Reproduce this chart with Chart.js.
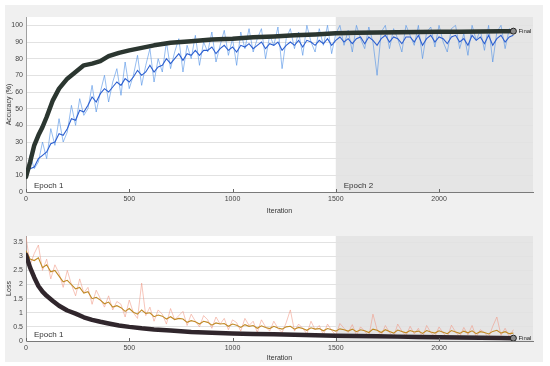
<!DOCTYPE html>
<html>
<head>
<meta charset="utf-8">
<script src="https://cdn.jsdelivr.net/npm/chart.js@4.4.1/dist/chart.umd.min.js"></script>
<style>
html, body { margin: 0; padding: 0; background: #fff; }
#panel { position: absolute; left: 5px; top: 5px; width: 538px; height: 357px; background: #f0f0f0; }
canvas { position: absolute; }
#acc { left: 5px; top: 5px; }
#loss { left: 5px; top: 228px; }
</style>
</head>
<body>
<div id="panel"></div>
<canvas id="acc" width="538" height="210"></canvas>
<canvas id="loss" width="538" height="134"></canvas>
<script>
// training iterations (sampled) for raw + smoothed curves
const iterations = [0,20,40,60,80,100,120,140,160,180,200,220,240,260,280,300,320,340,360,380,
  400,420,440,460,480,500,520,540,560,580,600,620,640,660,680,700,720,740,760,780,
  800,820,840,860,880,900,920,940,960,980,1000,1020,1040,1060,1080,1100,1120,1140,1160,1180,
  1200,1220,1240,1260,1280,1300,1320,1340,1360,1380,1400,1420,1440,1460,1480,1500,1520,1540,1560,1580,
  1600,1620,1640,1660,1680,1700,1720,1740,1760,1780,1800,1820,1840,1860,1880,1900,1920,1940,1960,1980,
  2000,2020,2040,2060,2080,2100,2120,2140,2160,2180,2200,2220,2240,2260,2280,2300,2320,2340,2360];

const accRaw = [8,22,14,18,30,20,38,28,44,30,36,52,40,56,46,50,64,48,60,70,
  54,66,74,58,78,62,70,82,64,76,86,66,80,72,90,74,84,92,72,88,
  80,94,76,90,84,96,78,88,97,82,92,76,96,86,98,84,92,98,80,94,
  88,99,74,92,98,86,96,82,100,90,84,98,88,100,83,95,100,88,97,84,
  100,92,86,99,90,70,96,100,86,98,92,84,100,94,88,100,80,96,99,87,
  100,90,84,98,100,86,95,82,100,91,97,85,100,78,96,100,86,98,96];

const accSmooth = [10,14,15,20,22,24,29,30,35,34,38,44,43,49,48,52,57,54,59,62,
  60,63,66,64,68,66,69,73,70,72,76,72,75,76,80,77,80,83,79,83,
  82,85,82,85,85,87,83,86,88,85,87,84,88,87,89,86,88,90,86,89,
  88,90,85,88,90,88,91,87,91,90,88,91,89,92,88,91,93,90,92,89,
  92,93,89,93,91,88,92,94,90,93,92,89,93,93,90,94,88,92,94,90,
  93,92,89,93,94,90,92,88,94,91,93,89,94,88,92,94,90,93,94];

const lossRaw = [3.7,2.7,3.1,3.4,2.5,2.9,2.2,2.7,2.4,1.9,2.5,2.0,1.6,2.2,1.7,1.9,1.3,1.8,1.5,1.2,
  1.6,1.1,1.4,1.3,0.85,1.45,1.0,0.8,2.05,0.9,1.2,0.7,1.1,0.95,0.6,1.15,0.75,0.9,1.05,0.55,
  0.95,0.7,0.5,0.9,0.75,0.45,0.85,0.6,0.8,0.4,0.75,0.65,0.35,0.8,0.55,0.7,0.3,0.75,0.5,0.35,
  0.7,0.45,0.3,0.65,1.1,0.35,0.6,0.45,0.25,0.7,0.4,0.55,0.22,0.6,0.38,0.2,0.62,0.45,0.3,0.58,
  0.2,0.5,0.35,0.15,0.95,0.4,0.2,0.55,0.3,0.14,0.6,0.35,0.18,0.52,0.25,0.45,0.12,0.55,0.3,0.16,
  0.5,0.28,0.12,0.56,0.32,0.15,0.48,0.22,0.55,0.14,0.4,0.3,0.12,0.52,0.85,0.2,0.45,0.15,0.4];

const lossSmooth = [3.2,2.9,2.85,2.95,2.6,2.7,2.45,2.5,2.3,2.1,2.15,2.0,1.85,1.9,1.7,1.75,1.5,1.55,1.45,1.32,
  1.38,1.2,1.25,1.18,1.05,1.15,1.02,0.95,1.1,0.98,1.0,0.86,0.92,0.88,0.78,0.86,0.76,0.8,0.78,0.66,
  0.72,0.68,0.6,0.7,0.66,0.56,0.64,0.6,0.62,0.52,0.6,0.56,0.48,0.58,0.52,0.55,0.45,0.54,0.48,0.44,
  0.52,0.46,0.42,0.5,0.52,0.42,0.48,0.44,0.38,0.47,0.42,0.44,0.36,0.44,0.4,0.35,0.43,0.4,0.35,0.42,
  0.33,0.4,0.36,0.3,0.42,0.38,0.3,0.4,0.34,0.28,0.39,0.34,0.29,0.37,0.32,0.35,0.27,0.37,0.32,0.28,
  0.36,0.31,0.26,0.37,0.32,0.27,0.35,0.29,0.36,0.26,0.33,0.3,0.25,0.34,0.38,0.28,0.33,0.26,0.28];

// validation checkpoints (black curves)
const valIter = [0,20,40,60,80,100,130,160,200,240,280,320,360,400,450,500,560,620,700,800,
  900,1000,1100,1200,1300,1400,1500,1600,1700,1800,1900,2000,2100,2200,2300,2360];
const valAcc = [9,18,28,34,39,45,55,62,68,72,76,77,78.5,81.5,83.5,85,86.5,88,89.5,90.5,
  91.5,92,92.8,93.3,94,94.5,95.2,95.5,95.7,95.9,96,96.1,96.2,96.3,96.4,96.5];
const valLoss = [3.05,2.6,2.25,1.95,1.75,1.6,1.42,1.25,1.08,0.97,0.84,0.75,0.68,0.62,0.55,0.5,0.45,0.41,0.37,0.32,
  0.29,0.27,0.25,0.24,0.22,0.2,0.19,0.18,0.17,0.155,0.145,0.135,0.125,0.115,0.11,0.1];

const accTicks = [0,10,20,30,40,50,60,70,80,90,100];
const lossTicks = [0,0.5,1,1.5,2,2.5,3,3.5];
const iterTicks = [0,500,1000,1500,2000];
const epochStart = 1500;

function pts(xs, ys) { return xs.map((x, i) => ({ x: x, y: ys[i] })); }

Chart.defaults.font.family = "'Liberation Sans', Arial, sans-serif";
Chart.defaults.font.size = 7;
Chart.defaults.color = '#444';

const panelPlugin = {
  id: 'panel',
  beforeDraw(chart, args, opts) {
    const { ctx, chartArea: a } = chart;
    const ex = chart.scales.x.getPixelForValue(epochStart);
    ctx.save();
    ctx.fillStyle = '#ffffff';
    ctx.fillRect(a.left, a.top, a.width, a.height);
    ctx.fillStyle = '#e5e5e5';
    ctx.fillRect(ex, a.top, a.right - ex, a.height);
    ctx.restore();
  },
  afterDraw(chart, args, opts) {
    const { ctx, chartArea: a } = chart;
    const xs = chart.scales.x, ys = chart.scales.y;
    ctx.save();
    // inward tick marks
    ctx.strokeStyle = '#666';
    ctx.lineWidth = 1;
    iterTicks.forEach(t => {
      const px = Math.round(xs.getPixelForValue(t)) + 0.5;
      ctx.beginPath();
      ctx.moveTo(px, a.bottom);
      ctx.lineTo(px, a.bottom - 3);
      ctx.stroke();
    });
    ctx.fillStyle = '#333';
    ctx.font = "8px 'Liberation Sans', Arial, sans-serif";
    ctx.textBaseline = 'alphabetic';
    ctx.fillText('Epoch 1', a.left + 8, a.bottom - 4);
    if (opts.epoch2) ctx.fillText('Epoch 2', xs.getPixelForValue(epochStart) + 8, a.bottom - 4);
    // final label
    const fx = xs.getPixelForValue(valIter[valIter.length - 1]);
    const fy = ys.getPixelForValue(opts.finalValue);
    ctx.font = "6px 'Liberation Sans', Arial, sans-serif";
    ctx.textBaseline = 'middle';
    ctx.fillStyle = '#222';
    ctx.fillText('Final', fx + 5, fy);
    ctx.restore();
  }
};

function makeChart(id, cfg) {
  return new Chart(document.getElementById(id), {
    type: 'scatter',
    data: {
      datasets: [
        { data: [{ x: valIter[valIter.length - 1], y: cfg.val[cfg.val.length - 1] }], order: 0,
          pointRadius: 3, pointBackgroundColor: '#8a8a8a', pointBorderColor: '#222', pointBorderWidth: 1, showLine: false },
        { data: pts(valIter, cfg.val), order: 1, showLine: true, borderColor: cfg.valColor, borderWidth: 4.5,
          pointRadius: 0, borderJoinStyle: 'round', borderCapStyle: 'round' },
        { data: pts(iterations, cfg.smooth), order: 2, showLine: true, borderColor: cfg.smoothColor, borderWidth: 1.1, pointRadius: 0 },
        { data: pts(iterations, cfg.raw), order: 3, showLine: true, borderColor: cfg.rawColor, borderWidth: 1, pointRadius: 0 }
      ]
    },
    options: {
      responsive: false,
      animation: false,
      layout: { padding: { top: cfg.padTop, right: 10, left: 0, bottom: 0 } },
      plugins: {
        legend: { display: false },
        tooltip: { enabled: false },
        panel: { epoch2: cfg.epoch2, finalValue: cfg.val[cfg.val.length - 1] }
      },
      scales: {
        x: {
          type: 'linear', min: 0, max: 2455,
          afterBuildTicks: s => { s.ticks = iterTicks.map(v => ({ value: v })); },
          afterFit: s => { s.height = cfg.xHeight; },
          ticks: { padding: 3, maxRotation: 0, callback: v => String(v) },
          grid: { display: false, drawTicks: false },
          border: { display: true, color: '#7a7a7a' },
          title: { display: true, text: 'Iteration', color: '#333', padding: { top: 1, bottom: 0 } }
        },
        y: {
          min: 0, max: cfg.yMax,
          afterBuildTicks: s => { s.ticks = cfg.yTicks.map(v => ({ value: v })); },
          afterFit: s => { s.width = 21; },
          ticks: { padding: 3, callback: v => String(v) },
          grid: { color: '#e2e2e2', drawTicks: false },
          border: { display: true, color: '#a0a0a0' },
          title: { display: true, text: cfg.yTitle, color: '#333', padding: 0 }
        }
      }
    },
    plugins: [panelPlugin]
  });
}

makeChart('acc', {
  raw: accRaw, smooth: accSmooth, val: valAcc,
  rawColor: 'rgba(80,145,230,0.6)', smoothColor: '#2c5fd0', valColor: '#2b3630',
  yMax: 105, yTicks: accTicks, yTitle: 'Accuracy (%)', padTop: 12, xHeight: 23, epoch2: true
});

makeChart('loss', {
  raw: lossRaw, smooth: lossSmooth, val: valLoss,
  rawColor: 'rgba(240,150,130,0.55)', smoothColor: '#c08a26', valColor: '#30262c',
  yMax: 3.72, yTicks: lossTicks, yTitle: 'Loss', padTop: 8, xHeight: 21, epoch2: false
});
</script>
</body>
</html>
